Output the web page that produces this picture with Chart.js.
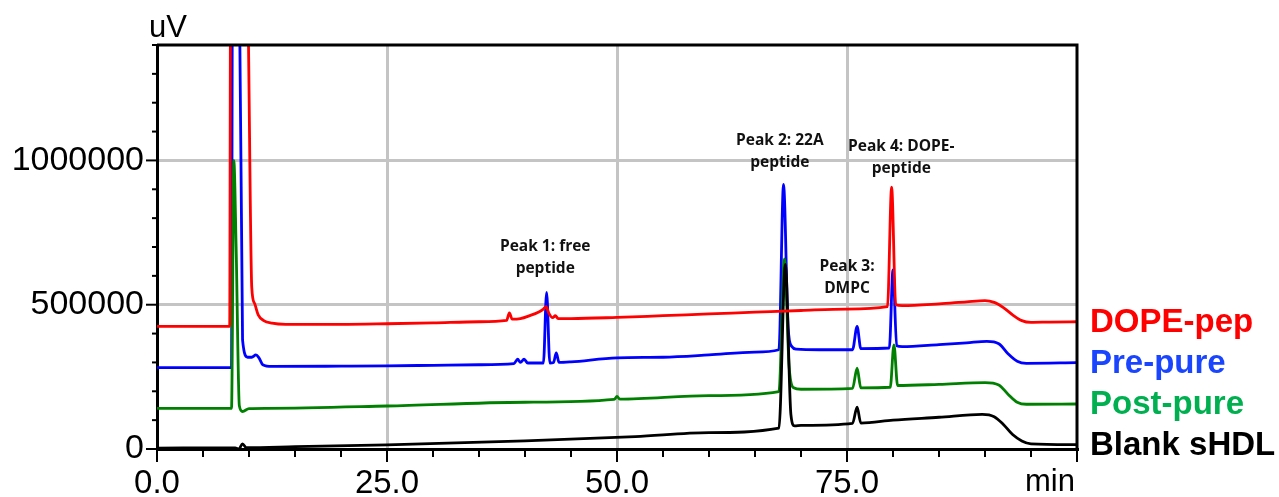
<!DOCTYPE html>
<html>
<head>
<meta charset="utf-8">
<script src="https://cdn.jsdelivr.net/npm/chart.js@4.4.1/dist/chart.umd.min.js"></script>
<style>
  html, body { margin: 0; padding: 0; background: #fff; }
  #wrap { width: 1279px; height: 497px; }
</style>
</head>
<body>
<div id="wrap"><canvas id="chrom" width="1279" height="497"></canvas></div>
<script>
// retention time (min) / signal (uV)
const redTime = [0, 7.9, 8.0, 9.8, 10.3, 10.6, 11.0, 11.6, 12.5, 14, 20, 25, 30, 35, 38.0, 38.3, 38.6, 39.5, 40.5, 41.5,
  42.0, 42.3, 42.6, 43.0, 43.3, 43.6, 45, 50, 55, 60, 65, 70, 75, 79.4, 79.85, 80.3, 81, 85, 88, 90, 91, 92, 93, 94, 95, 97, 100];
const redVal = [425e3, 425e3, 1.6e6, 1.6e6, 560e3, 505e3, 465e3, 445e3, 436e3, 432e3, 432e3, 434e3, 437e3, 441e3, 446e3, 472e3, 450e3, 452e3, 462e3, 475e3,
  485e3, 493e3, 470e3, 455e3, 462e3, 452e3, 452e3, 456e3, 462e3, 468e3, 474e3, 480e3, 485e3, 493e3, 907e3, 500e3, 497e3, 503e3, 510e3, 514e3, 508e3, 490e3, 465e3, 445e3, 439e3, 440e3, 441e3];

const blueTime = [0, 8.1, 8.2, 8.95, 9.3, 9.85, 10.3, 10.75, 11.1, 11.5, 12.5, 20, 25, 30, 35, 38.8, 39.2, 39.5, 39.9, 40.3,
  42.0, 42.35, 42.7, 43.1, 43.4, 43.7, 45, 50, 55, 60, 65, 67.6, 68.1, 68.6, 69.0, 69.5, 72, 75.6, 76.1, 76.5,
  79.6, 80.0, 80.4, 81, 85, 88, 90.2, 91.5, 92.5, 93.5, 94.5, 100];
const blueVal = [282e3, 282e3, 1.6e6, 1.6e6, 378e3, 318e3, 318e3, 326e3, 315e3, 292e3, 286e3, 287e3, 288e3, 290e3, 292e3, 296e3, 311e3, 300e3, 311e3, 298e3,
  298e3, 543e3, 298e3, 300e3, 333e3, 300e3, 302e3, 316e3, 318e3, 326e3, 336e3, 344e3, 917e3, 420e3, 355e3, 346e3, 344e3, 344e3, 425e3, 348e3,
  350e3, 621e3, 358e3, 355e3, 362e3, 368e3, 373e3, 365e3, 330e3, 304e3, 297e3, 299e3];

const greenTime = [0, 8.1, 8.35, 8.6, 8.95, 9.3, 10, 12, 25, 40, 49.7, 50, 50.3, 60, 67.6, 68.2, 68.7, 69.2, 70, 75.6,
  76.1, 76.5, 79.7, 80.1, 80.5, 85, 90, 91.5, 92.5, 93.5, 94.5, 100];
const greenVal = [141e3, 141e3, 1.0e6, 700e3, 150e3, 130e3, 140e3, 141e3, 149e3, 162e3, 172e3, 182e3, 173e3, 185e3, 199e3, 659e3, 290e3, 212e3, 207e3, 210e3,
  280e3, 212e3, 214e3, 361e3, 220e3, 224e3, 230e3, 222e3, 190e3, 162e3, 155e3, 156e3];

const blackTime = [0, 8.5, 8.9, 9.3, 9.7, 15, 25, 40, 52, 60, 67.6, 68.3, 68.9, 69.3, 70, 75.6, 76.1, 76.5, 80, 85,
  89.7, 91, 92, 93, 94, 95, 100];
const blackVal = [3e3, 4e3, 0, 18e3, 5e3, 8e3, 14e3, 28e3, 43e3, 57e3, 72e3, 640e3, 120e3, 80e3, 82e3, 89e3, 145e3, 90e3, 100e3, 110e3,
  120e3, 112e3, 85e3, 50e3, 28e3, 18e3, 15e3];

const seriesNames = ['DOPE-pep', 'Pre-pure', 'Post-pure', 'Blank sHDL'];
const xMajorTicks = [0, 25, 50, 75];
const yMajorTicks = [0, 500000, 1000000];

const peakText = [['Peak 1: free', 'peptide'], ['Peak 2: 22A', 'peptide'], ['Peak 3:', 'DMPC'], ['Peak 4: DOPE-', 'peptide']];
// where each peak label sits, in data units (min, uV) of its first line
const peakAt = [[42.2, 701e3], [67.7, 1070e3], [75.0, 633e3], [80.9, 1047e3]];

function pts(t, v) {
  return t.map((x, i) => ({x: x, y: v[i]}));
}

const FONT = '"Liberation Sans", Arial, sans-serif';
const legendColors = ['#ff0000', '#1a45ff', '#00b050', '#000000'];

const extras = {
  id: 'extras',
  afterDraw(chart) {
    const c = chart.ctx, a = chart.chartArea;
    const xs = chart.scales.x, ys = chart.scales.y;
    c.save();
    // top + right frame
    c.strokeStyle = '#000';
    c.lineWidth = 3;
    c.beginPath();
    c.moveTo(a.left, a.top);
    c.lineTo(a.right, a.top);
    c.lineTo(a.right, a.bottom);
    c.stroke();

    // tick marks
    c.lineWidth = 2;
    xs.ticks.forEach(t => {
      const px = xs.getPixelForValue(t.value);
      const len = t.value % 25 === 0 ? 13 : 8;
      c.beginPath(); c.moveTo(px, a.bottom); c.lineTo(px, a.bottom + len); c.stroke();
    });
    ys.ticks.forEach(t => {
      const py = ys.getPixelForValue(t.value);
      const len = t.value % 500000 === 0 ? 11 : 5;
      c.beginPath(); c.moveTo(a.left, py); c.lineTo(a.left - len, py); c.stroke();
    });

    // axis units
    c.fillStyle = '#000';
    c.font = '31px ' + FONT;
    c.textBaseline = 'alphabetic';
    c.textAlign = 'left';
    c.fillText('uV', a.left - 8, 37);
    c.textAlign = 'right';
    c.fillText('min', a.right - 2, 491);

    // series labels at the end of each trace
    c.font = 'bold 33px ' + FONT;
    c.textAlign = 'left';
    c.textBaseline = 'middle';
    chart.data.datasets.forEach((ds, i) => {
      const last = ds.data[ds.data.length - 1];
      c.fillStyle = legendColors[i];
      c.fillText(ds.label, a.right + 13, ys.getPixelForValue(last.y) + 1);
    });

    // peak annotations
    c.font = 'bold 15.5px "Open Sans", "Noto Sans", sans-serif';
    c.fillStyle = '#111';
    c.textAlign = 'center';
    peakText.forEach((lines, i) => {
      const px = xs.getPixelForValue(peakAt[i][0]);
      const py = ys.getPixelForValue(peakAt[i][1]);
      lines.forEach((s, j) => c.fillText(s, px, py + j * 22));
    });
    c.restore();
  }
};

const lineColors = ['#ff0000', '#0000ff', '#008000', '#000000'];
const allData = [pts(redTime, redVal), pts(blueTime, blueVal), pts(greenTime, greenVal), pts(blackTime, blackVal)];
const drawOrder = [0, 3, 2, 1];

new Chart(document.getElementById('chrom'), {
  type: 'line',
  data: {
    datasets: allData.map((d, i) => ({
      label: seriesNames[i],
      data: d,
      borderColor: lineColors[i],
      borderWidth: 2.8,
      pointRadius: 0,
      cubicInterpolationMode: 'monotone',
      order: drawOrder[i]
    }))
  },
  options: {
    responsive: false,
    animation: false,
    devicePixelRatio: 1,
    layout: { padding: { left: 0, top: 45, right: 202, bottom: 0 } },
    plugins: { legend: { display: false }, tooltip: { enabled: false } },
    scales: {
      x: {
        type: 'linear',
        min: 0, max: 100,
        afterFit(s) { s.height = 48; },
        ticks: {
          stepSize: 5,
          autoSkip: false,
          maxRotation: 0,
          padding: 15,
          color: '#000',
          font: { family: FONT, size: 33 },
          callback: v => xMajorTicks.includes(v) ? v.toFixed(1) : ''
        },
        grid: {
          drawTicks: false,
          lineWidth: 3,
          color: ctx => (ctx.tick && xMajorTicks.includes(ctx.tick.value)) ? '#c4c4c4' : 'rgba(0,0,0,0)'
        },
        border: { color: '#000', width: 3 }
      },
      y: {
        min: 0, max: 1400000,
        afterFit(s) { s.width = 157; },
        ticks: {
          stepSize: 100000,
          autoSkip: false,
          padding: 13,
          color: '#000',
          font: { family: FONT, size: 34 },
          callback: v => yMajorTicks.includes(v) ? String(v) : ''
        },
        grid: {
          drawTicks: false,
          lineWidth: 3,
          color: ctx => (ctx.tick && yMajorTicks.includes(ctx.tick.value)) ? '#c4c4c4' : 'rgba(0,0,0,0)'
        },
        border: { color: '#000', width: 3 }
      }
    }
  },
  plugins: [extras]
});
</script>
</body>
</html>
